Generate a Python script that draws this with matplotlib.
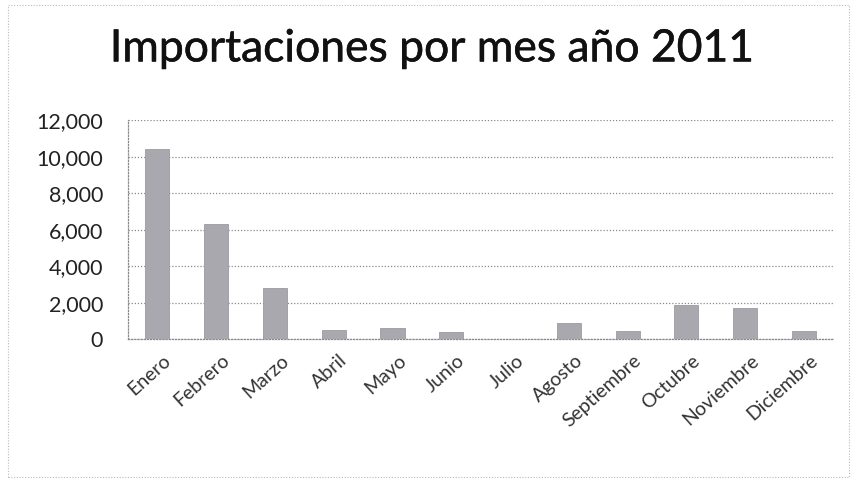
import matplotlib.pyplot as plt
import matplotlib.transforms as mtransforms
import matplotlib.patheffects as pe
from matplotlib.patches import Rectangle
from matplotlib.ticker import FuncFormatter

# datos del grafico
meses = ["Enero", "Febrero", "Marzo", "Abril", "Mayo", "Junio", "Julio",
         "Agosto", "Septiembre", "Octubre", "Noviembre", "Diciembre"]
importaciones = [10400, 6300, 2800, 480, 620, 370, 0, 880, 420, 1850, 1700, 420]
y_ticks = [0, 2000, 4000, 6000, 8000, 10000, 12000]
titulo = "Importaciones por mes año 2011"

plt.rcParams['font.family'] = ['Lato', 'DejaVu Sans']

fig = plt.figure(figsize=(8.53, 4.79), dpi=100)
ax = fig.add_axes([0.150, 0.292, 0.827, 0.457])

x = range(len(meses))
ax.bar(x, importaciones, width=0.41, color="#a8a8ae", edgecolor="#9a9aa2",
       linewidth=0.6, zorder=3)

ax.set_xlim(-0.5, len(meses) - 0.5)
ax.set_ylim(0, 12000)
ax.set_yticks(y_ticks)
ax.yaxis.set_major_formatter(FuncFormatter(lambda v, p: f"{int(v):,}"))
ax.set_xticks(list(x))
ax.set_xticklabels(meses, rotation=42, ha="right", rotation_mode="anchor")

ax.tick_params(axis="y", length=0, labelsize=15.5, pad=18, colors="#222222")
ax.tick_params(axis="x", length=0, labelsize=14, pad=9, colors="#333333")

# desplaza un poco las etiquetas del eje x hacia la derecha
offset = mtransforms.ScaledTranslation(4 / 72, 0, fig.dpi_scale_trans)
for lbl in ax.get_xticklabels():
    lbl.set_transform(lbl.get_transform() + offset)

# rejilla punteada
ax.grid(axis="y", color="#8a8a8a", linestyle=(0, (1, 1.5)), linewidth=0.9, zorder=0)
for lado in ["top", "right"]:
    ax.spines[lado].set_visible(False)
for lado in ["left", "bottom"]:
    ax.spines[lado].set_color("#8a8a8a")
    ax.spines[lado].set_linestyle((0, (1, 1.5)))
    ax.spines[lado].set_linewidth(0.9)

fig.text(0.507, 0.898, titulo, ha="center", va="center", fontsize=32,
         color="#111111",
         path_effects=[pe.withStroke(linewidth=0.4, foreground="#111111")])

# borde del area del grafico
fig.patches.append(Rectangle((0.009, 0.004), 0.986, 0.986, transform=fig.transFigure,
                             fill=False, edgecolor="#bbbbbb", linewidth=0.8,
                             linestyle=(0, (1, 1.5))))

fig.savefig("out.png", dpi=100)
